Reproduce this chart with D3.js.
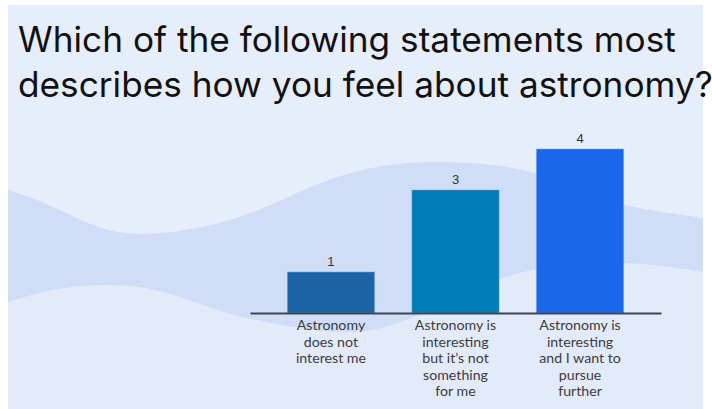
<!DOCTYPE html>
<html>
<head>
<meta charset="utf-8">
<script src="https://cdn.jsdelivr.net/npm/d3@7"></script>
<style>
  html, body { margin: 0; padding: 0; background: #fff; }
  svg { display: block; }
</style>
</head>
<body>
<svg id="chart" width="712" height="409"></svg>
<script>
// data
const titleLines = ["Which of the following statements most", "describes how you feel about astronomy?"]
const categories = [
  ["Astronomy", "does not", "interest me"],
  ["Astronomy is", "interesting", "but it\u2019s not", "something", "for me"],
  ["Astronomy is", "interesting", "and I want to", "pursue", "further"]
]
const values = [1, 3, 4]
const barColors = ["#1d64a7", "#007db6", "#1b67ec"]

// background waves (decoration only)
const waveTop = [[8,190],[45,202],[100,231],[145,236],[205,228],[260,211],[310,186],[370,165],[450,160],[530,168],[590,194],[630,208],[703,218]]
const waveBottom = [[8,302],[60,286],[130,283],[183,297],[217,311],[250,319],[290,327],[340,334],[380,330],[420,315],[460,295],[510,274],[560,264],[610,262],[660,265],[703,272]]

const svg = d3.select("#chart")
const W = 712, H = 409

// panel
svg.append("rect").attr("x", 8).attr("y", 5).attr("width", 695).attr("height", H - 5)
  .attr("fill", "#e3ebfb")

const clip = svg.append("clipPath").attr("id", "pclip")
clip.append("rect").attr("x", 8).attr("y", 5).attr("width", 695).attr("height", H - 5)

const bg = svg.append("g").attr("clip-path", "url(#pclip)")
const curve = d3.curveBasis

// upper light region
bg.append("path")
  .attr("d", d3.area().x(d => d[0]).y0(0).y1(d => d[1]).curve(curve)(waveTop))
  .attr("fill", "#e7eefb")

// band between the two waves
const topLine = d3.line().curve(curve)(waveTop)
const botLine = d3.line().curve(curve)(waveBottom.slice().reverse())
bg.append("path")
  .attr("d", topLine + "L" + botLine.slice(1) + "Z")
  .attr("fill", "#cfddf7")

// title
const title = svg.append("g")
  .style("font-family", "Inter, 'Noto Sans', sans-serif")
  .attr("fill", "#111")
const t1 = title.append("text").attr("x", 18).attr("y", 52).text(titleLines[0]).style("font-size", "38px")
const len = t1.node().getComputedTextLength()
const fs = 38 * 658 / len
t1.style("font-size", fs + "px")
title.append("text").attr("x", 18).attr("y", 97).text(titleLines[1]).style("font-size", fs + "px")

// scales
const x = d3.scaleBand()
  .domain(d3.range(values.length))
  .range([250, 661])
  .paddingInner(0.3)
  .paddingOuter(0.3)

const y = d3.scaleLinear()
  .domain([0, 4])
  .range([313, 149])

// bars
svg.append("g").selectAll("rect")
  .data(values).enter()
  .append("rect")
  .attr("x", (d, i) => x(i))
  .attr("y", d => y(d))
  .attr("width", x.bandwidth())
  .attr("height", d => y(0) - y(d))
  .attr("fill", (d, i) => barColors[i])
  .attr("stroke", "#6fa3e8")
  .attr("stroke-opacity", 0.6)
  .attr("stroke-width", 0.8)

// value labels
svg.append("g").selectAll("text")
  .data(values).enter()
  .append("text")
  .attr("x", (d, i) => x(i) + x.bandwidth() / 2)
  .attr("y", d => y(d) - 6)
  .attr("text-anchor", "middle")
  .style("font", "13px 'Liberation Sans', Arial, sans-serif")
  .attr("fill", "#333")
  .text(d => d)

// axis
const axis = svg.append("g")
  .attr("transform", `translate(0,${y(0)})`)
  .call(d3.axisBottom(x).tickSize(0).tickFormat(""))
axis.select(".domain").attr("stroke", "#3d4652").attr("stroke-width", 2)

// category labels
const lab = svg.append("g")
  .style("font-family", "Lato, 'Noto Sans', sans-serif")
  .style("font-size", "14.2px")
  .attr("fill", "#3c3c3c")
  .attr("text-anchor", "middle")
categories.forEach((lines, i) => {
  lines.forEach((s, j) => {
    lab.append("text")
      .attr("x", x(i) + x.bandwidth() / 2)
      .attr("y", 330 + j * 16.5)
      .text(s)
  })
})
</script>
</body>
</html>
